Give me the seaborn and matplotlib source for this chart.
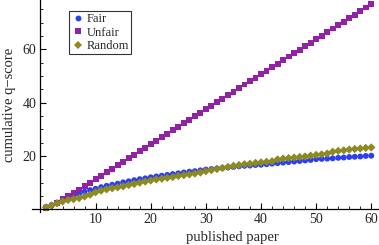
import numpy as np
import pandas as pd
import seaborn as sns
import matplotlib.pyplot as plt
from matplotlib.ticker import MultipleLocator

papers = list(range(1, 61))

fair = [0.9, 1.6, 2.5, 3.5, 4.5, 5.3, 5.9, 6.6, 7.2, 7.7,
        8.3, 8.8, 9.2, 9.6, 10.1, 10.5, 10.9, 11.3, 11.6, 12.0,
        12.3, 12.6, 12.9, 13.2, 13.5, 13.8, 14.1, 14.3, 14.6, 14.9,
        15.1, 15.3, 15.5, 15.7, 15.9, 16.1, 16.3, 16.4, 16.6, 16.7,
        16.9, 17.1, 17.3, 17.5, 17.7, 17.9, 18.1, 18.3, 18.5, 18.8,
        18.9, 19.0, 19.1, 19.3, 19.4, 19.6, 19.7, 19.8, 20.0, 20.1]

unfair = [0.6, 1.4, 2.5, 3.7, 4.9, 6.1, 7.4, 8.7, 10.0, 11.3,
          12.6, 13.9, 15.2, 16.5, 17.9, 19.2, 20.5, 21.8, 23.1, 24.4,
          25.7, 27.0, 28.4, 29.7, 31.0, 32.3, 33.6, 34.9, 36.2, 37.6,
          38.9, 40.2, 41.5, 42.8, 44.1, 45.4, 46.8, 48.1, 49.4, 50.7,
          52.0, 53.3, 54.6, 55.9, 57.3, 58.6, 59.9, 61.2, 62.5, 63.8,
          65.1, 66.5, 67.8, 69.1, 70.4, 71.7, 73.0, 74.3, 75.7, 77.0]

random_sel = [0.7, 1.4, 2.2, 2.9, 3.5, 3.8, 4.2, 4.8, 5.5, 6.4,
              7.0, 7.5, 7.9, 8.2, 8.6, 9.1, 9.5, 10.0, 10.4, 10.8,
              11.2, 11.5, 11.8, 12.1, 12.5, 12.8, 13.1, 13.4, 13.8, 14.3,
              14.7, 15.1, 15.5, 15.9, 16.3, 16.6, 16.9, 17.1, 17.4, 17.6,
              17.8, 18.0, 18.7, 19.0, 19.2, 19.4, 19.6, 19.8, 20.1, 20.4,
              20.6, 20.9, 21.6, 21.9, 22.1, 22.4, 22.6, 22.8, 23.0, 23.2]

methods = ["Fair", "Unfair", "Random"]
colors = {"Fair": "#2b3ef2", "Unfair": "#9321a6", "Random": "#8c8a22"}
markers = {"Fair": "o", "Unfair": "s", "Random": "D"}

df = pd.DataFrame({
    "paper": papers * 3,
    "score": fair + unfair + random_sel,
    "method": ["Fair"] * 60 + ["Unfair"] * 60 + ["Random"] * 60,
})

sns.set_style("white")
plt.rcParams["font.family"] = ["Liberation Serif", "DejaVu Serif"]

fig = plt.figure(figsize=(3.79, 2.45), dpi=100)
ax = fig.add_axes([0.085, 0.136, 0.915, 0.864])

sns.scatterplot(data=df, x="paper", y="score", hue="method", style="method",
                hue_order=methods, style_order=methods, palette=colors,
                markers=markers, s=18, linewidth=0, ax=ax)

ax.set_xlim(-1.5, 61.4)
ax.set_ylim(-0.9, 78.5)
ax.spines["left"].set_position(("data", 0))
ax.spines["bottom"].set_position(("data", 0))
ax.spines["top"].set_visible(False)
ax.spines["right"].set_visible(False)
for s in ["left", "bottom"]:
    ax.spines[s].set_color("black")
    ax.spines[s].set_linewidth(0.9)

ax.set_xticks([10, 20, 30, 40, 50, 60])
ax.set_yticks([20, 40, 60])
ax.xaxis.set_minor_locator(MultipleLocator(2))
ax.yaxis.set_minor_locator(MultipleLocator(5))
ax.tick_params(which="major", direction="in", length=4, width=0.8,
               labelsize=10, color="black", pad=3)
ax.tick_params(which="minor", direction="in", length=2, width=0.6, color="black")
ax.tick_params(axis="x", bottom=True, which="both")
ax.tick_params(axis="y", left=True, which="both")

ax.set_xlabel("")
ax.set_ylabel("")
fig.text(0.612, 0.005, "published paper", ha="center", va="bottom", fontsize=10.5)
fig.text(0.008, 0.57, "cumulative q\u2212score", ha="left", va="center",
         rotation=90, fontsize=10.5)

handles, labels = ax.get_legend_handles_labels()
leg = ax.legend(handles, labels, loc="upper left",
                bbox_to_anchor=(69 / 379, 1 - 11 / 245),
                bbox_transform=fig.transFigure, fontsize=9,
                frameon=True, fancybox=False, edgecolor="black",
                borderpad=0.2, labelspacing=0.1, handletextpad=0.1,
                handlelength=1.1, borderaxespad=0, markerscale=1.0)
leg.get_frame().set_linewidth(0.8)

fig.savefig("out.png", dpi=100)
